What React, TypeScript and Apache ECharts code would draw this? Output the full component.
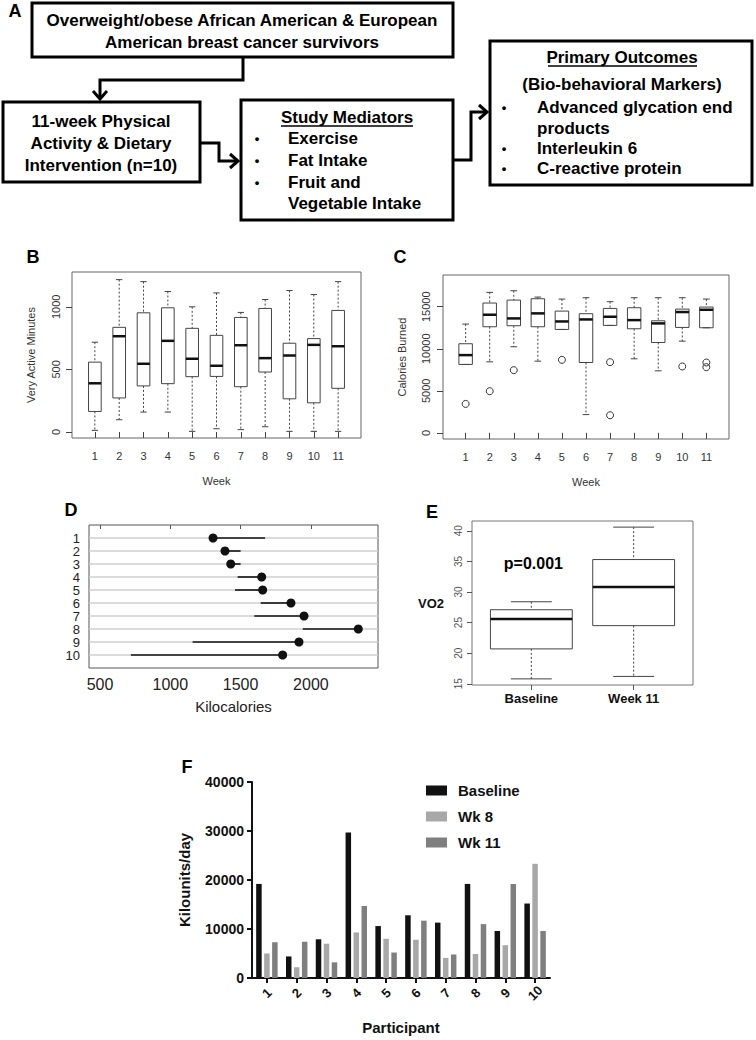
import React, { useEffect, useRef } from "react";
import * as echarts from "echarts";

// ---------- Data ----------
const weeks = [1, 2, 3, 4, 5, 6, 7, 8, 9, 10, 11];
// [min, Q1, median, Q3, max]
const activeMinutes = [
  [13, 164, 389, 558, 717],
  [98, 272, 765, 836, 1217],
  [159, 368, 545, 952, 1201],
  [159, 386, 728, 992, 1122],
  [5, 442, 585, 828, 1000],
  [26, 444, 529, 772, 1111],
  [19, 362, 693, 915, 955],
  [42, 479, 590, 987, 1058],
  [5, 265, 611, 709, 1130],
  [5, 233, 696, 746, 1098],
  [5, 349, 685, 971, 1201],
];
const caloriesBurned = [
  [8140, 8140, 9250, 10600, 12940],
  [8450, 12620, 14050, 15440, 16710],
  [10240, 12740, 13610, 15790, 16900],
  [8530, 12620, 14210, 15950, 16150],
  [12300, 12300, 13250, 14480, 15910],
  [2180, 8370, 13490, 14170, 16070],
  [12780, 12780, 13810, 14800, 15600],
  [8810, 12380, 13410, 14880, 16070],
  [7380, 10750, 13020, 13330, 16070],
  [10910, 12540, 14370, 14720, 16070],
  [12500, 12500, 14640, 14960, 15910],
];
// outliers [week, value]
const caloriesOutliers = [
  [1, 3450], [2, 4960], [3, 7460], [5, 8690], [7, 8410], [7, 2100],
  [10, 7900], [11, 8370], [11, 7820],
];

const participantRows = [1, 2, 3, 4, 5, 6, 7, 8, 9, 10];
const kcalDot = [1304, 1389, 1430, 1650, 1657, 1858, 1951, 2337, 1915, 1799];
const kcalOther = [1674, 1500, 1500, 1479, 1460, 1643, 1597, 1942, 1159, 720];

const vo2Groups = ["Baseline", "Week 11"];
const vo2Boxes = [
  [15.8, 20.7, 25.6, 27.1, 28.4],
  [16.2, 24.5, 30.8, 35.3, 40.6],
];
const vo2PLabel = "p=0.001";

const participants = ["1", "2", "3", "4", "5", "6", "7", "8", "9", "10"];
const baselineK = [19200, 4400, 7900, 29700, 10600, 12800, 11300, 19200, 9600, 15200];
const wk8K = [5000, 2200, 7000, 9300, 8000, 7800, 4100, 4900, 6700, 23300];
const wk11K = [7300, 7400, 3200, 14700, 5200, 11700, 4800, 11000, 19200, 9600];

const FONT = "'Liberation Sans', Arial, Helvetica, sans-serif";
const plain = (v: number) => String(v);

function boxRenderer(widthUnits: number, medianWidth: number, stroke: string) {
  return (params: any, api: any) => {
    const x = api.value(0);
    const lo = api.value(1), q1 = api.value(2), md = api.value(3), q3 = api.value(4), hi = api.value(5);
    const w = api.size([widthUnits, 0])[0];
    const cx = api.coord([x, md])[0];
    const y = (v: number) => api.coord([x, v])[1];
    const half = w / 2;
    const cap = w / 4;
    const dash = [2, 2];
    const ls = { stroke, lineWidth: 1 };
    return {
      type: "group",
      children: [
        { type: "line", shape: { x1: cx, y1: y(hi), x2: cx, y2: y(q3) }, style: { ...ls, lineDash: dash } },
        { type: "line", shape: { x1: cx, y1: y(q1), x2: cx, y2: y(lo) }, style: { ...ls, lineDash: dash } },
        { type: "line", shape: { x1: cx - cap, y1: y(hi), x2: cx + cap, y2: y(hi) }, style: ls },
        { type: "line", shape: { x1: cx - cap, y1: y(lo), x2: cx + cap, y2: y(lo) }, style: ls },
        { type: "rect", shape: { x: cx - half, y: y(q3), width: w, height: y(q1) - y(q3) }, style: { ...ls, fill: "transparent" } },
        { type: "line", shape: { x1: cx - half, y1: y(md), x2: cx + half, y2: y(md) }, style: { stroke: "#111", lineWidth: medianWidth } },
      ],
    };
  };
}

function boldText(x: number, y: number, text: string, size = 17, align = "center") {
  return {
    type: "text",
    x,
    y,
    style: { text, fill: "#000", font: `bold ${size}px ${FONT}`, textAlign: align, textVerticalAlign: "middle" },
  };
}

function flowGraphics() {
  const stroke = { stroke: "#000", lineWidth: 3, fill: "none" };
  const els: any[] = [];
  // boxes
  els.push({ type: "rect", shape: { x: 32, y: 3, width: 421, height: 54 }, style: { ...stroke, fill: "#fff" } });
  els.push({ type: "rect", shape: { x: 3, y: 102, width: 197, height: 80 }, style: { ...stroke, fill: "#fff" } });
  els.push({ type: "rect", shape: { x: 241, y: 100, width: 212, height: 120 }, style: { ...stroke, fill: "#fff" } });
  els.push({ type: "rect", shape: { x: 490, y: 41, width: 262, height: 144 }, style: { ...stroke, fill: "#fff" } });
  // connectors
  els.push({ type: "polyline", shape: { points: [[243, 57], [243, 80], [100, 80], [100, 99]] }, style: stroke });
  els.push({ type: "polyline", shape: { points: [[93, 91], [100, 99], [107, 91]] }, style: stroke });
  els.push({ type: "polyline", shape: { points: [[200, 143], [219, 143], [219, 161], [238, 161]] }, style: stroke });
  els.push({ type: "polyline", shape: { points: [[230, 154], [238, 161], [230, 168]] }, style: stroke });
  els.push({ type: "polyline", shape: { points: [[453, 160], [471, 160], [471, 112], [487, 112]] }, style: stroke });
  els.push({ type: "polyline", shape: { points: [[479, 105], [487, 112], [479, 119]] }, style: stroke });
  // texts
  els.push(boldText(242, 20, "Overweight/obese African American & European"));
  els.push(boldText(242, 42, "American breast cancer survivors"));
  els.push(boldText(101, 121, "11-week Physical"));
  els.push(boldText(101, 143, "Activity & Dietary"));
  els.push(boldText(101, 165, "Intervention (n=10)"));
  els.push(boldText(347, 117, "Study Mediators"));
  els.push({ type: "line", shape: { x1: 281, y1: 126, x2: 413, y2: 126 }, style: { stroke: "#000", lineWidth: 1.5 } });
  const med = ["Exercise", "Fat Intake", "Fruit and", "Vegetable Intake"];
  const medY = [138, 160, 182, 203];
  med.forEach((t, i) => {
    if (i < 3) els.push(boldText(257, medY[i], "•", 13));
    els.push(boldText(288, medY[i], t, 17, "left"));
  });
  els.push(boldText(622, 57, "Primary Outcomes"));
  els.push({ type: "line", shape: { x1: 548, y1: 66, x2: 697, y2: 66 }, style: { stroke: "#000", lineWidth: 1.5 } });
  els.push(boldText(622, 84, "(Bio-behavioral Markers)"));
  const po = ["Advanced glycation end", "products", "Interleukin 6", "C-reactive protein"];
  const poY = [107, 128, 148, 168];
  po.forEach((t, i) => {
    if (i !== 1) els.push(boldText(504, poY[i], "•", 13));
    els.push(boldText(537, poY[i], t, 17, "left"));
  });
  // panel letters
  els.push(boldText(15, 11, "A", 18));
  els.push(boldText(33, 257, "B", 18));
  els.push(boldText(400, 257, "C", 18));
  els.push(boldText(71, 510, "D", 18));
  els.push(boldText(432, 512, "E", 18));
  els.push(boldText(187, 767, "F", 18));
  return els;
}

const rAxisLabel = { color: "#333", fontSize: 11, fontFamily: FONT };

function buildOption(): any {
  const bData = weeks.map((w, i) => [w, ...activeMinutes[i]]);
  const cData = weeks.map((w, i) => [w, ...caloriesBurned[i]]);
  const eData = vo2Boxes.map((b, i) => [i + 1, ...b]);
  const dSeg = participantRows.map((r, i) => [kcalOther[i], kcalDot[i], r]);
  const dDots = participantRows.map((r, i) => [kcalDot[i], r]);

  return {
    animation: false,
    textStyle: { fontFamily: FONT },
    graphic: flowGraphics(),
    legend: {
      data: ["Baseline", "Wk 8", "Wk 11"],
      orient: "vertical",
      left: 421,
      top: 778,
      icon: "rect",
      itemWidth: 21,
      itemHeight: 10,
      itemGap: 11,
      textStyle: { fontSize: 15, fontWeight: "bold", color: "#111", padding: [0, 0, 0, 6] },
    },
    grid: [
      { left: 72, top: 272, width: 289, height: 166, show: true, borderColor: "#666", borderWidth: 1 },
      { left: 443, top: 275, width: 286, height: 164, show: true, borderColor: "#666", borderWidth: 1 },
      { left: 89, top: 525, width: 289, height: 143, show: true, borderColor: "#555", borderWidth: 1 },
      { left: 472, top: 521, width: 221, height: 164, show: true, borderColor: "#777", borderWidth: 1 },
      { left: 252, top: 782, width: 298, height: 196, show: false },
    ],
    xAxis: [
      {
        gridIndex: 0, type: "value", min: 0.06, max: 11.94,
        axisLine: { show: false }, splitLine: { show: false },
        axisTick: { show: true, length: 6, customValues: weeks, lineStyle: { color: "#444" } },
        axisLabel: { ...rAxisLabel, margin: 12, customValues: weeks, formatter: plain },
        name: "Week", nameLocation: "middle", nameGap: 37, nameTextStyle: { ...rAxisLabel },
      },
      {
        gridIndex: 1, type: "value", min: 0.06, max: 11.94,
        axisLine: { show: false }, splitLine: { show: false },
        axisTick: { show: true, length: 6, customValues: weeks, lineStyle: { color: "#444" } },
        axisLabel: { ...rAxisLabel, margin: 12, customValues: weeks, formatter: plain },
        name: "Week", nameLocation: "middle", nameGap: 37, nameTextStyle: { ...rAxisLabel },
      },
      {
        gridIndex: 2, type: "value", min: 422, max: 2477,
        axisLine: { show: false }, splitLine: { show: false },
        axisTick: { show: true, length: 4, customValues: [500, 1000, 1500, 2000], lineStyle: { color: "#555" } },
        axisLabel: { color: "#222", fontSize: 16, margin: 8, customValues: [500, 1000, 1500, 2000], formatter: plain },
        name: "Kilocalories", nameLocation: "middle", nameGap: 31, nameTextStyle: { color: "#222", fontSize: 15 },
      },
      {
        gridIndex: 3, type: "value", min: 0.42, max: 2.58,
        axisLine: { show: false }, splitLine: { show: false },
        axisTick: { show: true, length: 5, customValues: [1, 2], lineStyle: { color: "#555" } },
        axisLabel: {
          color: "#111", fontSize: 13, fontWeight: "bold", margin: 7, customValues: [1, 2],
          formatter: (v: number) => vo2Groups[Math.round(v) - 1] || "",
        },
      },
      {
        gridIndex: 4, type: "category", data: participants,
        axisLine: { show: true, lineStyle: { color: "#111", width: 2 } },
        axisTick: { show: true, alignWithLabel: true, length: 5, lineStyle: { color: "#111", width: 2 } },
        axisLabel: { color: "#111", fontSize: 13, fontWeight: "bold", rotate: 45, align: "center", verticalAlign: "middle", margin: 15 },
        name: "Participant", nameLocation: "middle", nameGap: 42,
        nameTextStyle: { color: "#111", fontSize: 15, fontWeight: "bold" },
      },
    ],
    yAxis: [
      {
        gridIndex: 0, type: "value", min: -48, max: 1278,
        axisLine: { show: false }, splitLine: { show: false },
        axisTick: { show: true, length: 6, customValues: [0, 500, 1000], lineStyle: { color: "#444" } },
        axisLabel: { ...rAxisLabel, rotate: 90, margin: 11, customValues: [0, 500, 1000], formatter: plain },
        name: "Very Active Minutes", nameLocation: "middle", nameGap: 36, nameTextStyle: { ...rAxisLabel },
      },
      {
        gridIndex: 1, type: "value", min: -722, max: 18772,
        axisLine: { show: false }, splitLine: { show: false },
        axisTick: { show: true, length: 6, customValues: [0, 5000, 10000, 15000], lineStyle: { color: "#444" } },
        axisLabel: { ...rAxisLabel, rotate: 90, margin: 12, customValues: [0, 5000, 10000, 15000], formatter: plain },
        name: "Calories Burned", nameLocation: "middle", nameGap: 36, nameTextStyle: { ...rAxisLabel },
      },
      {
        gridIndex: 2, type: "value", min: 0, max: 11, interval: 1, inverse: true,
        axisLine: { show: false }, splitLine: { show: false }, axisTick: { show: false },
        axisLabel: {
          color: "#222", fontSize: 13, lineHeight: 12, margin: 9,
          formatter: (v: number) => (v >= 1 && v <= 10 ? String(v) : ""),
        },
      },
      {
        gridIndex: 3, type: "value", min: 14.8, max: 41.6,
        axisLine: { show: false }, splitLine: { show: false },
        axisTick: { show: true, length: 5, customValues: [15, 20, 25, 30, 35, 40], lineStyle: { color: "#555" } },
        axisLabel: { color: "#555", fontSize: 10, rotate: 90, margin: 9, customValues: [15, 20, 25, 30, 35, 40], formatter: plain },
        name: "VO2", nameLocation: "middle", nameRotate: 0, nameGap: 28,
        nameTextStyle: { color: "#111", fontSize: 13, fontWeight: "bold" },
      },
      {
        gridIndex: 4, type: "value", min: 0, max: 40000, interval: 10000,
        axisLine: { show: true, lineStyle: { color: "#111", width: 2 } },
        axisTick: { show: true, length: 5, lineStyle: { color: "#111", width: 2 } },
        splitLine: { show: false },
        axisLabel: { color: "#111", fontSize: 14, fontWeight: "bold", margin: 8, formatter: plain },
        name: "Kilounits/day", nameLocation: "middle", nameGap: 60,
        nameTextStyle: { color: "#111", fontSize: 15, fontWeight: "bold" },
      },
    ],
    series: [
      {
        type: "custom", xAxisIndex: 0, yAxisIndex: 0, data: bData,
        encode: { x: 0, y: [1, 2, 3, 4, 5] },
        renderItem: boxRenderer(0.52, 2.5, "#444"),
        silent: true,
      },
      {
        type: "custom", xAxisIndex: 1, yAxisIndex: 1, data: cData,
        encode: { x: 0, y: [1, 2, 3, 4, 5] },
        renderItem: boxRenderer(0.56, 2.5, "#444"),
        silent: true,
      },
      {
        type: "scatter", xAxisIndex: 1, yAxisIndex: 1, data: caloriesOutliers,
        symbol: "circle", symbolSize: 7,
        itemStyle: { color: "transparent", borderColor: "#333", borderWidth: 1, opacity: 1 },
        silent: true,
      },
      {
        type: "custom", xAxisIndex: 2, yAxisIndex: 2, data: dSeg,
        encode: { x: [0, 1], y: 2 },
        renderItem: (params: any, api: any) => {
          const row = api.value(2);
          const p0 = api.coord([api.value(0), row]);
          const p1 = api.coord([api.value(1), row]);
          const cs = params.coordSys;
          return {
            type: "group",
            children: [
              { type: "line", shape: { x1: cs.x, y1: p0[1], x2: cs.x + cs.width, y2: p0[1] }, style: { stroke: "#cfcfcf", lineWidth: 1.5 } },
              { type: "line", shape: { x1: p0[0], y1: p0[1], x2: p1[0], y2: p1[1] }, style: { stroke: "#111", lineWidth: 1.6 } },
            ],
          };
        },
        silent: true,
      },
      {
        type: "scatter", xAxisIndex: 2, yAxisIndex: 2, data: dDots,
        symbol: "circle", symbolSize: 9, itemStyle: { color: "#111", opacity: 1 }, silent: true,
      },
      {
        type: "custom", xAxisIndex: 3, yAxisIndex: 3, data: eData,
        encode: { x: 0, y: [1, 2, 3, 4, 5] },
        renderItem: boxRenderer(0.8, 2.5, "#444"),
        silent: true,
      },
      {
        type: "scatter", xAxisIndex: 3, yAxisIndex: 3, data: [[1.02, 34.7]],
        symbolSize: 0, silent: true, itemStyle: { opacity: 1 },
        label: { show: true, position: "inside", formatter: vo2PLabel, color: "#000", fontSize: 16, fontWeight: "bold" },
      },
      {
        name: "Baseline", type: "bar", xAxisIndex: 4, yAxisIndex: 4, data: baselineK,
        itemStyle: { color: "#111" }, barGap: "45%", barCategoryGap: "28%",
      },
      {
        name: "Wk 8", type: "bar", xAxisIndex: 4, yAxisIndex: 4, data: wk8K,
        itemStyle: { color: "#a8a8a8" }, barGap: "45%", barCategoryGap: "28%",
      },
      {
        name: "Wk 11", type: "bar", xAxisIndex: 4, yAxisIndex: 4, data: wk11K,
        itemStyle: { color: "#7f7f7f" }, barGap: "45%", barCategoryGap: "28%",
      },
    ],
  };
}

export default function App() {
  const ref = useRef<HTMLDivElement>(null);
  useEffect(() => {
    document.body.style.margin = "0";
    if (!ref.current) return;
    const chart = echarts.init(ref.current, undefined, { renderer: "svg" });
    chart.setOption(buildOption());
    return () => chart.dispose();
  }, []);
  return <div ref={ref} style={{ width: 756, height: 1040, background: "#fff" }} />;
}
